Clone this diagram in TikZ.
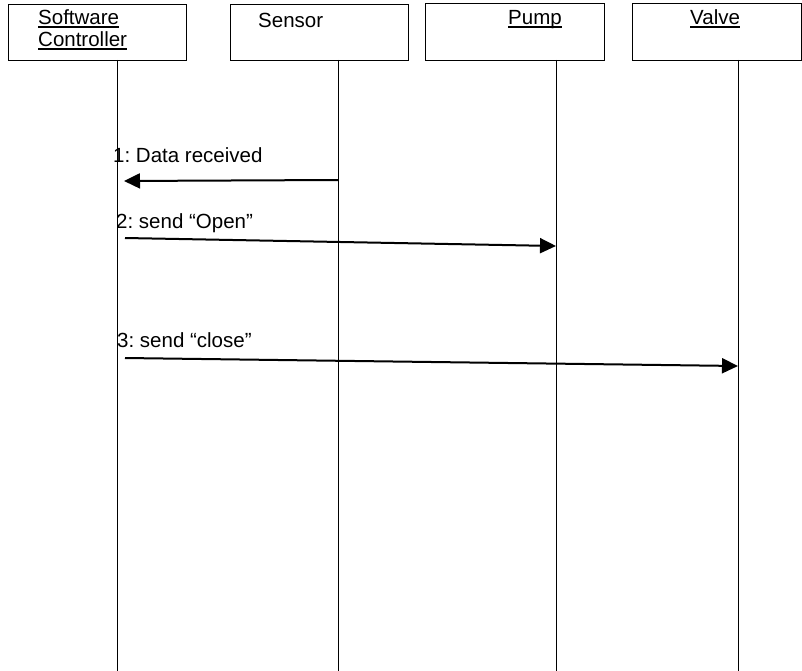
\documentclass[tikz,border=0pt]{standalone}
\usepackage{fontspec}
\setmainfont{Liberation Sans}
\usetikzlibrary{arrows.meta}
\frenchspacing
% underline at a fixed depth below the baseline, crossing descenders
\newcommand\ulword[1]{\setbox0\hbox{#1}\rlap{\rule[-3pt]{\wd0}{1.5pt}}\box0}
\begin{document}
\begin{tikzpicture}[x=1pt,y=-1pt,
  objbox/.style={draw, line width=0.9pt},
  objlabel/.style={anchor=base west, inner sep=0pt, font=\fontsize{20.5}{24}\selectfont},
  msglabel/.style={anchor=base west, inner sep=0pt, font=\fontsize{20.5}{24}\selectfont},
  lifeline/.style={line width=0.9pt},
  msg/.style={line width=2pt, -{Triangle[length=16pt,width=15pt]}}
]
\useasboundingbox (0,0) rectangle (802,671);
\fill[white] (0,0) rectangle (802,671);

% object boxes
\draw[objbox] (8,4) rectangle (186,60) node[coordinate] (ctrlBox) {};
\draw[objbox] (230,4) rectangle (408,60) node[coordinate] (sensBox) {};
\draw[objbox] (425,3) rectangle (604,60) node[coordinate] (pumpBox) {};
\draw[objbox] (632,3) rectangle (801,60) node[coordinate] (valveBox) {};

% object names
\node[objlabel] (ctrlName1) at (38,25) {\ulword{Software}};
\node[objlabel] (ctrlName2) at (38,47) {\ulword{Controller}};
\node[objlabel] (sensName) at (258,28) {Sensor};
\node[objlabel] (pumpName) at (508,25) {\ulword{Pump}};
\node[objlabel] (valveName) at (690,25) {\ulword{Valve}};

% lifelines
\coordinate (ctrlTop) at (117,60);  \coordinate (ctrlBot) at (117,671);
\coordinate (sensTop) at (338,60);  \coordinate (sensBot) at (338,671);
\coordinate (pumpTop) at (556,60);  \coordinate (pumpBot) at (556,671);
\coordinate (valveTop) at (738,60); \coordinate (valveBot) at (738,671);
\draw[lifeline] (ctrlTop) -- (ctrlBot);
\draw[lifeline] (sensTop) -- (sensBot);
\draw[lifeline] (pumpTop) -- (pumpBot);
\draw[lifeline] (valveTop) -- (valveBot);

% messages
\coordinate (m1from) at (338,180); \coordinate (m1to) at (124,181);
\coordinate (m2from) at (125,238); \coordinate (m2to) at (556,246);
\coordinate (m3from) at (125,358); \coordinate (m3to) at (738,366);
\draw[msg] (m1from) -- (m1to);
\draw[msg] (m2from) -- (m2to);
\draw[msg] (m3from) -- (m3to);

\node[msglabel] (m1label) at (113,163) {1: Data received};
\node[msglabel] (m2label) at (116,228) {2: send “Open”};
\node[msglabel] (m3label) at (117,347) {3: send “close”};
\end{tikzpicture}
\end{document}
